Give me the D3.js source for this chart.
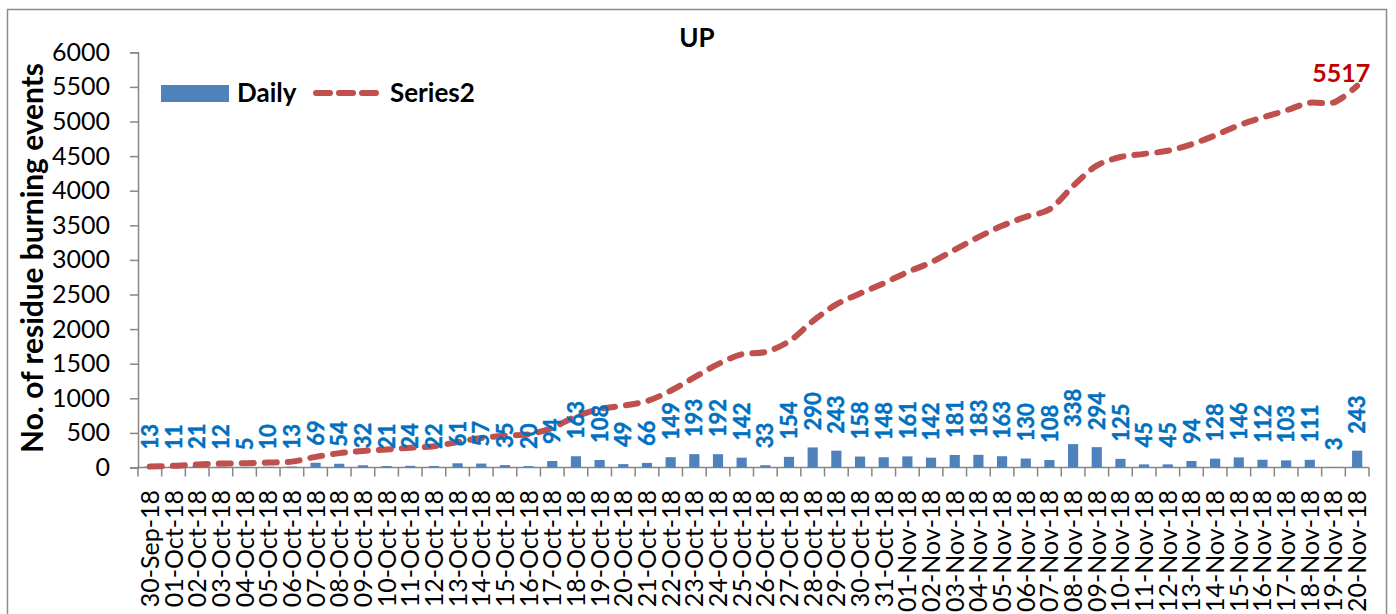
<!DOCTYPE html>
<html>
<head>
<meta charset="utf-8">
<title>UP</title>
<script src="https://cdn.jsdelivr.net/npm/d3@7"></script>
<style>
  body { margin: 0; background: #fff; }
  text { font-family: Lato, "Open Sans", sans-serif; }
</style>
</head>
<body>
<svg width="1396" height="614" id="mainsvg"></svg>
<script>
// categories and values
const dates = [
  "30-Sep-18", "01-Oct-18", "02-Oct-18", "03-Oct-18", "04-Oct-18", "05-Oct-18", "06-Oct-18",
  "07-Oct-18", "08-Oct-18", "09-Oct-18", "10-Oct-18", "11-Oct-18", "12-Oct-18", "13-Oct-18",
  "14-Oct-18", "15-Oct-18", "16-Oct-18", "17-Oct-18", "18-Oct-18", "19-Oct-18", "20-Oct-18",
  "21-Oct-18", "22-Oct-18", "23-Oct-18", "24-Oct-18", "25-Oct-18", "26-Oct-18", "27-Oct-18",
  "28-Oct-18", "29-Oct-18", "30-Oct-18", "31-Oct-18", "01-Nov-18", "02-Nov-18", "03-Nov-18",
  "04-Nov-18", "05-Nov-18", "06-Nov-18", "07-Nov-18", "08-Nov-18", "09-Nov-18", "10-Nov-18",
  "11-Nov-18", "12-Nov-18", "13-Nov-18", "14-Nov-18", "15-Nov-18", "16-Nov-18", "17-Nov-18",
  "18-Nov-18", "19-Nov-18", "20-Nov-18"
];
const daily = [
  13, 11, 21, 12, 5, 10, 13, 69, 54, 32, 21, 24, 22, 61, 57, 35, 20, 94, 163, 108,
  49, 66, 149, 193, 192, 142, 33, 154, 290, 243, 158, 148, 161, 142, 181, 183, 163, 130,
  108, 338, 294, 125, 45, 45, 94, 128, 146, 112, 103, 111, 3, 243
];
// Series2 (running total line)
const series2 = [
  13, 24, 45, 57, 62, 72, 85, 154, 208, 240, 261, 285, 307, 368, 425, 460, 480, 574, 737, 845,
  894, 960, 1109, 1302, 1494, 1636, 1669, 1823, 2113, 2356, 2514, 2662, 2823, 2965, 3146, 3329,
  3492, 3622, 3730, 4068, 4362, 4487, 4532, 4577, 4671, 4799, 4945, 5057, 5160, 5271, 5274, 5517
];
const yTicks = [0, 500, 1000, 1500, 2000, 2500, 3000, 3500, 4000, 4500, 5000, 5500, 6000];
const seriesNames = ["Daily", "Series2"];

const svg = d3.select('#mainsvg');
const barColor = '#4F81BD', lineColor = '#C0504D', labelColor = '#0070C0', axisColor = '#868686';

// chart frame
svg.append('rect')
  .attr('x', 7.5).attr('y', 9.5).attr('width', 1379).attr('height', 640)
  .attr('fill', 'none').attr('stroke', '#8c8c8c').attr('stroke-width', 1.5);

const x = d3.scaleBand().domain(dates).range([138, 1369]).paddingInner(0.57).paddingOuter(0.285);
const y = d3.scaleLinear().domain([0, 6000]).range([467.5, 52.3]);
const cx = d => x(d) + x.bandwidth() / 2;

// title
svg.append('text').attr('x', 697).attr('y', 47)
  .attr('text-anchor', 'middle').attr('font-size', 26).attr('font-weight', 'bold').text('UP');

// y axis
const yAxis = d3.axisLeft(y).tickValues(yTicks).tickFormat(d3.format('d')).tickSize(8).tickPadding(20);
const gy = svg.append('g').attr('transform', 'translate(138,0)').call(yAxis);
gy.select('.domain').attr('stroke', axisColor).attr('stroke-width', 1.5);
gy.selectAll('.tick line').attr('stroke', axisColor).attr('stroke-width', 1.5);
gy.selectAll('.tick text').attr('font-size', 25).attr('fill', '#000')
  .attr('font-family', 'Lato, sans-serif');

const yTitle = svg.append('text')
  .attr('transform', 'translate(43,258) rotate(-90)')
  .attr('text-anchor', 'middle').attr('font-size', 27).attr('font-weight', 'bold')
  .text('No. of residue burning events');
// fit the title to the span it has in the reference (about 390px)
const tl = yTitle.node().getComputedTextLength();
yTitle.attr('font-size', 27 * 390 / tl);

// x axis: baseline + ticks between categories
const gx = svg.append('g');
gx.append('line').attr('x1', 138).attr('x2', 1369).attr('y1', y(0)).attr('y2', y(0))
  .attr('stroke', axisColor).attr('stroke-width', 1.5);
const bounds = dates.map(d => x(d) - (x.step() - x.bandwidth()) / 2).concat([1369]);
gx.selectAll('.bt').data(bounds).join('line').attr('class', 'bt')
  .attr('x1', d => d).attr('x2', d => d).attr('y1', y(0)).attr('y2', y(0) + 9)
  .attr('stroke', axisColor).attr('stroke-width', 1.5);
gx.selectAll('.xl').data(dates).join('text').attr('class', 'xl')
  .attr('transform', d => `translate(${cx(d)},490) rotate(-90)`)
  .attr('text-anchor', 'end').attr('dy', '0.36em').attr('font-size', 25)
  .text(d => d);

// bars
svg.selectAll('.bar').data(dates).join('rect').attr('class', 'bar')
  .attr('x', d => x(d)).attr('width', x.bandwidth())
  .attr('y', (d, i) => y(daily[i])).attr('height', (d, i) => y(0) - y(daily[i]))
  .attr('fill', barColor);

// line
const line = d3.line().x((d, i) => cx(dates[i])).y(d => y(d)).curve(d3.curveCatmullRom.alpha(0.5));
svg.append('path').datum(series2).attr('d', line)
  .attr('fill', 'none').attr('stroke', lineColor).attr('stroke-width', 6)
  .attr('stroke-linecap', 'round').attr('stroke-dasharray', '12,11');

// data labels on bars
svg.selectAll('.dl').data(dates).join('text').attr('class', 'dl')
  .attr('transform', (d, i) => `translate(${cx(d)},${y(daily[i]) - 17}) rotate(-90)`)
  .attr('dy', '0.37em').attr('font-size', 22).attr('font-weight', 'bold')
  .attr('fill', labelColor).attr('stroke', labelColor).attr('stroke-width', 0.4)
  .text((d, i) => daily[i]);

// label for last point of the line
const last = dates.length - 1;
svg.append('text')
  .attr('x', cx(dates[last]) - 16).attr('y', y(series2[last]) - 4)
  .attr('text-anchor', 'middle').attr('font-size', 25).attr('font-weight', 'bold')
  .attr('fill', '#C00000').text(series2[last]);

// legend
const lg = svg.append('g');
lg.append('rect').attr('x', 161).attr('y', 85).attr('width', 68).attr('height', 17).attr('fill', barColor);
lg.append('text').attr('x', 237).attr('y', 102).attr('font-size', 26).attr('font-weight', 'bold').text(seriesNames[0]);
lg.append('line').attr('x1', 316).attr('x2', 376).attr('y1', 93).attr('y2', 93)
  .attr('stroke', lineColor).attr('stroke-width', 6).attr('stroke-linecap', 'round')
  .attr('stroke-dasharray', '14,9');
lg.append('text').attr('x', 390).attr('y', 102).attr('font-size', 26).attr('font-weight', 'bold').text(seriesNames[1]);
</script>
</body>
</html>
